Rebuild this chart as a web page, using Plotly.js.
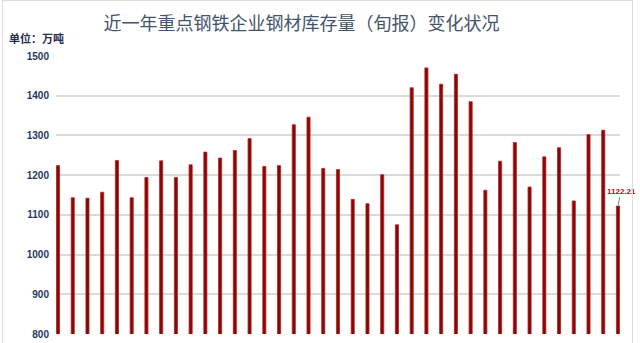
<!DOCTYPE html>
<html>
<head>
<meta charset="utf-8">
<script src="https://cdn.plot.ly/plotly-3.0.1.min.js"></script>
<style>
  html, body { margin: 0; padding: 0; background: #ffffff; }
  #wrap { position: relative; width: 640px; height: 343px; overflow: hidden; }
  #chart { width: 640px; height: 343px; }
  #frame { position: absolute; left: 2px; top: 0px; width: 629px; height: 360px;
           border: 1px solid #dcdcdc; pointer-events: none; }
</style>
</head>
<body>
<div id="wrap">
  <div id="chart"></div>
  <div id="frame"></div>
</div>
<script>
// Reporting periods (ten-day reports over roughly one year)
const periods = [1, 2, 3, 4, 5, 6, 7, 8, 9, 10, 11, 12, 13, 14, 15, 16, 17, 18, 19, 20,
                 21, 22, 23, 24, 25, 26, 27, 28, 29, 30, 31, 32, 33, 34, 35, 36, 37, 38, 39];

// Steel inventory of key steel enterprises, 10k tonnes
const inventory = [1224, 1143, 1142, 1157, 1237, 1143, 1194, 1236, 1194, 1226,
                   1258, 1243, 1262, 1292, 1222, 1224, 1327, 1346, 1217, 1214,
                   1139, 1128, 1201, 1075, 1420, 1470, 1429, 1454, 1385, 1162,
                   1235, 1282, 1170, 1246, 1269, 1135, 1302, 1313, 1122.21];

const yTicks = [800, 900, 1000, 1100, 1200, 1300, 1400, 1500];

const titleText = '近一年重点钢铁企业钢材库存量（旬报）变化状况';
const unitText = '单位：万吨';

const lastIdx = inventory.length - 1;

const trace = {
  type: 'bar',
  x: periods,
  y: inventory,
  marker: {
    color: '#7e0a0a',
    line: { color: '#c41a1a', width: 0.8 }
  },
  hoverinfo: 'x+y'
};

const layout = {
  width: 640,
  height: 343,
  paper_bgcolor: '#ffffff',
  plot_bgcolor: '#ffffff',
  margin: { l: 56, r: 20, t: 56, b: 9 },
  bargap: 0.79,
  showlegend: false,
  title: {
    text: titleText,
    font: { family: 'Noto Sans CJK SC', size: 18, color: '#44546a' },
    xref: 'container', x: 0.471, xanchor: 'center',
    yref: 'container', y: 1 - 24 / 343, yanchor: 'middle'
  },
  xaxis: {
    range: [periods[0] - 0.136, periods[lastIdx] + 0.136],
    showticklabels: false,
    showgrid: false,
    zeroline: false,
    ticks: ''
  },
  yaxis: {
    range: [800, 1500],
    tickvals: yTicks,
    ticktext: yTicks.map(String),
    showgrid: true,
    gridcolor: '#dadada',
    gridwidth: 2,
    zeroline: false,
    ticks: '',
    ticklabelstandoff: 6,
    tickfont: { family: 'Liberation Sans', size: 10, color: '#1f3a5f', weight: 'bold' }
  },
  annotations: [
    {
      text: unitText,
      xref: 'paper', yref: 'paper',
      x: (7 - 56) / 564, xanchor: 'left',
      y: (334 - 38) / 278, yanchor: 'middle',
      showarrow: false,
      font: { family: 'Noto Sans CJK SC', size: 11, color: '#1f2d4d', weight: 'bold' }
    },
    {
      text: '<b>' + inventory[lastIdx].toFixed(2) + '</b>',
      x: periods[lastIdx], y: inventory[lastIdx],
      xref: 'x', yref: 'y',
      showarrow: true,
      arrowhead: 0,
      arrowwidth: 1,
      arrowcolor: '#7f7f7f',
      ax: 3, ay: -15,
      standoff: 1,
      font: { family: 'Liberation Sans', size: 8, color: '#a01010' }
    }
  ]
};

Plotly.newPlot('chart', [trace], layout, { displayModeBar: false, staticPlot: true });
</script>
</body>
</html>
